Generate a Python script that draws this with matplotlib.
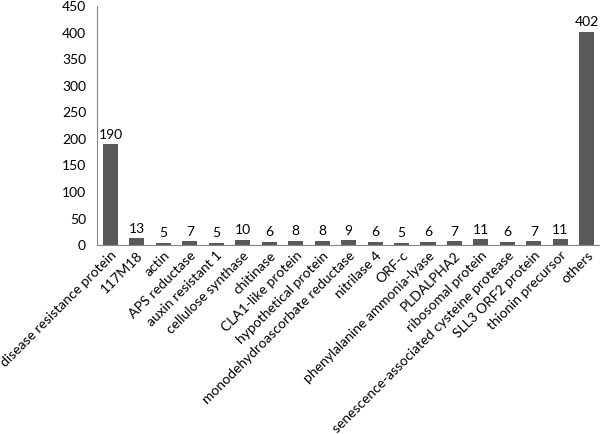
import matplotlib
matplotlib.use('Agg')
import matplotlib.pyplot as plt
import numpy as np

# data
categories = ['disease resistance protein', '117M18', 'actin', 'APS reductase',
              'auxin resistant 1', 'cellulose synthase', 'chitinase',
              'CLA1-like protein', 'hypothetical protein',
              'monodehydroascorbate reductase', 'nitrilase 4', 'ORF-c',
              'phenylalanine ammonia-lyase', 'PLDALPHA2', 'ribosomal protein',
              'senescence-associated cysteine protease', 'SLL3 ORF2 protein',
              'thionin precursor', 'others']
counts = [190, 13, 5, 7, 5, 10, 6, 8, 8, 9, 6, 5, 6, 7, 11, 6, 7, 11, 402]

plt.rcParams['font.family'] = ['Lato', 'DejaVu Sans']
fs = 10

fig = plt.figure(figsize=(6, 4.34), dpi=100)
ax = fig.add_axes([0.162, 0.435, 0.838, 0.551])

x = np.arange(len(categories))
bars = ax.bar(x, counts, width=0.57, color='#595959')

# value labels above each bar
for xi, v in zip(x, counts):
    ax.text(xi, v + 7, str(v), ha='center', va='bottom', fontsize=fs)

ax.set_xlim(-0.5, len(categories) - 0.5)
ax.set_ylim(0, 450)
ax.set_yticks(np.arange(0, 451, 50))
ax.set_xticks(x)
ax.set_xticklabels(categories, rotation=45, ha='right', rotation_mode='anchor',
                   fontsize=fs)
ax.tick_params(axis='both', length=0, labelsize=fs)
ax.tick_params(axis='y', pad=8)
ax.tick_params(axis='x', pad=3)

for s in ['top', 'right']:
    ax.spines[s].set_visible(False)
for s in ['left', 'bottom']:
    ax.spines[s].set_color('#868686')

plt.savefig('out.png', dpi=100)
